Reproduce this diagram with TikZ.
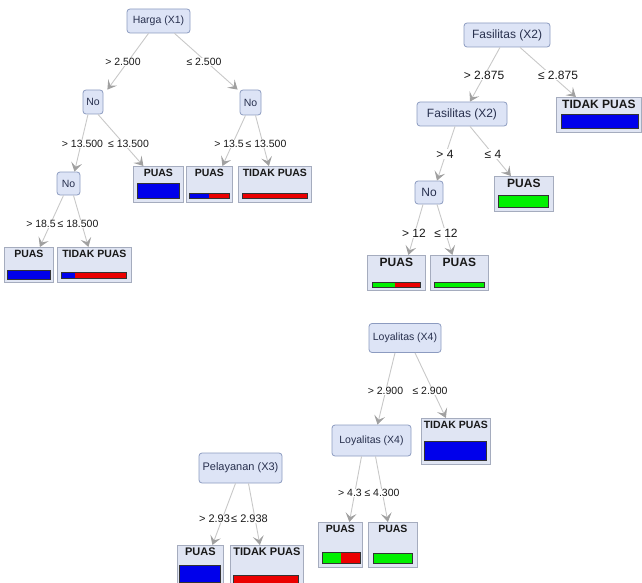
\documentclass[tikz,border=0pt]{standalone}
\usepackage{fontspec}
\setmainfont{Liberation Sans}
\usetikzlibrary{arrows.meta}

\definecolor{decfill}{RGB}{221,228,246}
\definecolor{decdraw}{RGB}{140,155,192}
\definecolor{leaffill}{RGB}{224,229,243}
\definecolor{leafdraw}{RGB}{165,172,190}
\definecolor{edgecol}{RGB}{200,200,200}
\definecolor{tipcol}{RGB}{160,160,160}
\definecolor{decText}{RGB}{40,48,78}
\definecolor{barblue}{RGB}{0,0,235}
\definecolor{barred}{RGB}{235,0,0}
\definecolor{bargreen}{RGB}{0,240,0}

\tikzset{
  dec/.style={draw=decdraw, fill=decfill, rounded corners=3pt, line width=0.8pt,
    text=decText, inner sep=0pt, font=\fontsize{#1}{#1}\selectfont},
  leafbox/.style={draw=leafdraw, fill=leaffill, line width=0.8pt, inner sep=0pt},
  leaftext/.style={inner sep=0pt, text=black!90, font=\bfseries\fontsize{#1}{#1}\selectfont},
  lbl/.style={fill=white, inner sep=0.6pt, text=black!90, font=\fontsize{#1}{#1}\selectfont},
  edge/.style={draw=edgecol, line width=0.9pt,
    -{Stealth[length=9pt, width=11pt, inset=4pt, fill=tipcol, color=tipcol]}},
  barline/.style={draw=black!80, line width=0.7pt},
}

% leaf box: name, x1, y1, x2, y2, font size, text
\newcommand{\leafnode}[7]{%
  \pgfmathsetmacro\lfw{#4-#2}\pgfmathsetmacro\lfh{#5-#3}%
  \node[leafbox, minimum width=\lfw pt, minimum height=\lfh pt, anchor=north west] (#1) at (#2,#3) {};
  \node[leaftext=#6, anchor=north] (#1-t) at ([yshift=-3pt]#1.north) {#7};
}
% class bar: x1, y1, x2, y2, split, left colour, right colour
\newcommand{\classbar}[7]{%
  \pgfmathsetmacro\bsx{#1+(#3-#1)*#5}%
  \fill[#6] (#1,#2) rectangle (\bsx,#4);
  \fill[#7] (\bsx,#2) rectangle (#3,#4);
  \draw[barline] (#1,#2) rectangle (#3,#4);
}

\begin{document}
\begin{tikzpicture}[x=1pt, y=-1pt]
\useasboundingbox (0,0) rectangle (642,583);

% ---------------- Harga (X1) ----------------
\node[dec=10.5, minimum width=63pt, minimum height=24pt] (harga) at (158.5,21) {Harga (X1)};
\node[dec=10.5, minimum width=20pt, minimum height=24pt] (noA) at (93,102) {No};
\node[dec=10.5, minimum width=21pt, minimum height=25pt] (noB) at (250.5,102.5) {No};
\node[dec=10.5, minimum width=23pt, minimum height=23pt] (noC) at (68.5,183.5) {No};

\leafnode{h1}{133}{166}{183}{202}{10.5}{PUAS}
\classbar{137}{183}{179}{198}{1}{barblue}{barblue}
\leafnode{h2}{186}{166}{232}{202}{10.5}{PUAS}
\classbar{189}{193}{229}{198}{0.5}{barblue}{barred}
\leafnode{h3}{238}{166}{311}{202}{10.5}{TIDAK PUAS}
\classbar{242}{193}{307}{198}{1}{barred}{barred}
\leafnode{h4}{4}{247}{53}{282}{10.5}{PUAS}
\classbar{7}{270}{50}{279}{1}{barblue}{barblue}
\leafnode{h5}{57}{247}{131}{282}{10.5}{TIDAK PUAS}
\classbar{61}{272}{126}{278}{0.22}{barblue}{barred}

\draw[edge] ([xshift=-10pt]harga.south) -- ([xshift=4pt]noA.north east);
\draw[edge] ([xshift=16pt]harga.south) -- ([xshift=-2pt]noB.north west);
\draw[edge] ([xshift=-5pt]noA.south) -- ([xshift=6pt]noC.north);
\draw[edge] ([xshift=5pt]noA.south) -- ([xshift=-15pt]h1.north);
\draw[edge] ([xshift=-5pt]noB.south) -- ([xshift=13pt]h2.north);
\draw[edge] ([xshift=5pt]noB.south) -- ([xshift=-6pt]h3.north);
\draw[edge] ([xshift=-5pt]noC.south) -- ([xshift=11pt]h4.north);
\draw[edge] ([xshift=5pt]noC.south) -- ([xshift=-6pt]h5.north);

\node[lbl=10.5] (l1) at (123,62) {> 2.500};
\node[lbl=10.5] (l2) at (204,62) {≤ 2.500};
\node[lbl=10.5] (l3) at (82.5,144) {> 13.500};
\node[lbl=10.5] (l4) at (128.5,144) {≤ 13.500};
\node[lbl=10.5] (l5) at (229,144) {> 13.5};
\node[lbl=10.5] (l6) at (266,144) {≤ 13.500};
\node[lbl=10.5] (l7) at (41,224) {> 18.5};
\node[lbl=10.5] (l8) at (78,224) {≤ 18.500};

% ---------------- Fasilitas (X2) ----------------
\node[dec=12, minimum width=86pt, minimum height=24pt] (fas1) at (507,35) {Fasilitas (X2)};
\node[dec=12, minimum width=90pt, minimum height=24pt] (fas2) at (462,114) {Fasilitas (X2)};
\node[dec=12, minimum width=28pt, minimum height=23pt] (noD) at (429,192.5) {No};

\leafnode{f1}{556}{97}{641}{132}{12}{TIDAK PUAS}
\classbar{561}{114}{638}{128}{1}{barblue}{barblue}
\leafnode{f2}{494}{176}{553}{211}{12}{PUAS}
\classbar{498}{195}{548}{207}{1}{bargreen}{bargreen}
\leafnode{f3}{367}{255}{425}{290}{12}{PUAS}
\classbar{372}{282}{420}{287}{0.48}{bargreen}{barred}
\leafnode{f4}{430}{255}{488}{290}{12}{PUAS}
\classbar{434}{282}{484}{287}{1}{bargreen}{bargreen}

\draw[edge] ([xshift=-7pt]fas1.south) -- ([xshift=8pt]fas2.north);
\draw[edge] ([xshift=13pt]fas1.south) -- ([xshift=-23pt]f1.north);
\draw[edge] ([xshift=-7pt]fas2.south) -- ([xshift=8pt]noD.north);
\draw[edge] ([xshift=8pt]fas2.south) -- ([xshift=-13pt]f2.north);
\draw[edge] ([xshift=-6pt]noD.south) -- ([xshift=12pt]f3.north);
\draw[edge] ([xshift=8pt]noD.south) -- ([xshift=-7pt]f4.north);

\node[lbl=12] (l9) at (484,75) {> 2.875};
\node[lbl=12] (l10) at (558,75) {≤ 2.875};
\node[lbl=12] (l11) at (445,154) {> 4};
\node[lbl=12] (l12) at (493,154) {≤ 4};
\node[lbl=12] (l13) at (414,233) {> 12};
\node[lbl=12] (l14) at (446,233) {≤ 12};

% ---------------- Loyalitas (X4) ----------------
\node[dec=10.5, minimum width=72pt, minimum height=29pt] (loy1) at (405,338) {Loyalitas (X4)};
\node[dec=10.5, minimum width=79pt, minimum height=31pt] (loy2) at (371.5,440.5) {Loyalitas (X4)};

\leafnode{y1}{421}{418}{490}{464}{10.5}{TIDAK PUAS}
\classbar{424}{441}{486}{460}{1}{barblue}{barblue}
\leafnode{y2}{318}{522}{362}{567}{10.5}{PUAS}
\classbar{322}{552}{360}{563}{0.5}{bargreen}{barred}
\leafnode{y3}{368}{522}{417}{567}{10.5}{PUAS}
\classbar{373}{553}{412}{563}{1}{bargreen}{bargreen}

\draw[edge] ([xshift=-10pt]loy1.south) -- ([xshift=6pt]loy2.north);
\draw[edge] ([xshift=10pt]loy1.south) -- ([xshift=-10pt]y1.north);
\draw[edge] ([xshift=-10pt]loy2.south) -- ([xshift=9pt]y2.north);
\draw[edge] ([xshift=4pt]loy2.south) -- ([xshift=-5pt]y3.north);

\node[lbl=10.5] (l15) at (385.5,391) {> 2.900};
\node[lbl=10.5] (l16) at (430,391) {≤ 2.900};
\node[lbl=10.5] (l17) at (350,493) {> 4.3};
\node[lbl=10.5] (l18) at (382,493) {≤ 4.300};

% ---------------- Pelayanan (X3) ----------------
\node[dec=11, minimum width=83pt, minimum height=30pt] (pel) at (240.5,468) {Pelayanan (X3)};

\leafnode{p1}{177}{545}{223}{590}{11}{PUAS}
\classbar{179}{565}{220}{582}{1}{barblue}{barblue}
\leafnode{p2}{230}{545}{303}{590}{11}{TIDAK PUAS}
\classbar{233}{575}{298}{585}{1}{barred}{barred}

\draw[edge] ([xshift=-5pt]pel.south) -- ([xshift=12pt]p1.north);
\draw[edge] ([xshift=8pt]pel.south) -- ([xshift=-7pt]p2.north);

\node[lbl=11] (l19) at (214.5,519) {> 2.93};
\node[lbl=11] (l20) at (249.5,519) {≤ 2.938};
\end{tikzpicture}
\end{document}
